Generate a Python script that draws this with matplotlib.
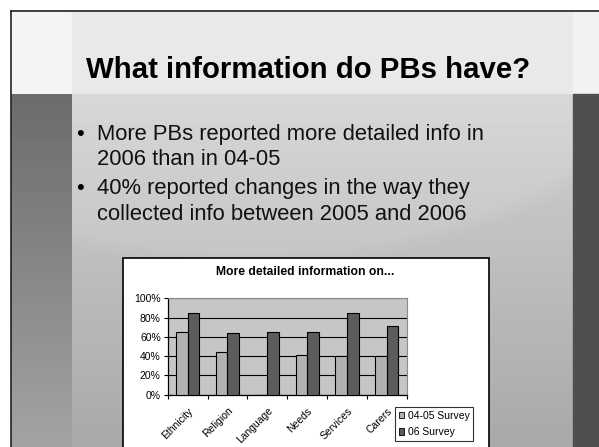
import numpy as np
import matplotlib.pyplot as plt
from matplotlib.patches import Rectangle
from matplotlib.ticker import PercentFormatter

# === Data ===
categories = ["Ethnicity", "Religion", "Language", "Needs", "Services", "Carers"]
survey_0405 = [65, 44, 0, 41, 40, 40]
survey_06 = [85, 64, 65, 65, 85, 71]
series_names = ["04-05 Survey", "06 Survey"]

slide_title = "What information do PBs have?"
bullets = [
    ["More PBs reported more detailed info in", "2006 than in 04-05"],
    ["40% reported changes in the way they", "collected info between 2005 and 2006"],
]
chart_title = "More detailed information on..."

plt.rcParams["font.family"] = ["Liberation Sans", "DejaVu Sans"]

W, H = 599, 447
fig = plt.figure(figsize=(W / 100, H / 100), dpi=100)

# === Slide background (pixel coordinates) ===
bg = fig.add_axes([0, 0, 1, 1])
bg.set_xlim(0, W)
bg.set_ylim(H, 0)
bg.axis("off")

bg.add_patch(Rectangle((0, 0), W, H, color="white", zorder=0))
# header strip
bg.add_patch(Rectangle((11, 11), 61, 83, color="#f4f4f4", zorder=1))
bg.add_patch(Rectangle((72, 11), 501, 83, color="#e9e9e9", zorder=1))
bg.add_patch(Rectangle((573, 11), 26, 83, color="#f2f2f2", zorder=1))

# body: vertical shading, darker left band, faint light swoosh top-left
px, py = np.meshgrid(np.arange(11, 573), np.arange(94, H))
t = (py - 94) / (H - 94)
body = 0.82 - 0.16 * t
band = px < 72
body[band] = 0.42 + 0.22 * t[band]
r = ((px - 250) / 420) ** 2 + ((py - 40) / 230) ** 2
glow = np.clip((1.0 - r) / 0.15, 0, 1)
body += 0.025 * glow * (~band)
bg.imshow(body, cmap="gray", vmin=0, vmax=1, interpolation="bilinear",
          extent=(11, 573, H, 94), aspect="auto", zorder=1)
bg.add_patch(Rectangle((573, 94), 26, H - 94, color="#4f4f4f", zorder=1))

# outer frame lines
bg.plot([11, W], [11, 11], color="#222222", lw=1.2, zorder=2)
bg.plot([11, 11], [11, H], color="#222222", lw=1.2, zorder=2)

# slide title and bullets
bg.text(86, 78, slide_title, fontsize=21.2, fontweight="bold",
        color="black", va="baseline", ha="left", zorder=3)
baselines = [[140, 165], [194, 220]]
for lines, ys in zip(bullets, baselines):
    bg.text(76, ys[0], "•", fontsize=15.8, va="baseline", ha="left", zorder=3)
    for line, y in zip(lines, ys):
        bg.text(97, y, line, fontsize=15.8, va="baseline", ha="left",
                color="#111111", zorder=3)

# chart box
bg.add_patch(Rectangle((123, 258), 366, H, facecolor="white",
                       edgecolor="black", lw=1.2, zorder=2))
bg.text(305, 275, chart_title, fontsize=8.7, fontweight="bold",
        ha="center", va="baseline", zorder=3)

# === Chart ===
ax = fig.add_axes([167.7 / W, 1 - 394.7 / H, 239 / W, 96.4 / H])
ax.set_facecolor("#c6c6c6")
x = np.arange(len(categories)) + 0.5
bw = 0.29
ax.bar(x - bw / 2, np.array(survey_0405) / 100, width=bw, color="#b2b2b2",
       edgecolor="black", linewidth=0.8, label=series_names[0], zorder=3)
ax.bar(x + bw / 2, np.array(survey_06) / 100, width=bw, color="#5c5c5c",
       edgecolor="black", linewidth=0.8, label=series_names[1], zorder=3)

ax.set_xlim(0, len(categories))
ax.set_ylim(0, 1)
ax.set_yticks(np.arange(0, 1.01, 0.2))
ax.yaxis.set_major_formatter(PercentFormatter(1.0, decimals=0))
ax.yaxis.grid(True, color="black", linewidth=0.8, zorder=1)
ax.set_axisbelow(True)
ax.tick_params(axis="y", direction="out", length=3, width=0.8,
               labelsize=7.5, pad=2)

ax.set_xticks(np.arange(0, len(categories) + 1))
ax.set_xticklabels([])
ax.set_xticks(x, minor=True)
ax.set_xticklabels(categories, minor=True, rotation=45, ha="right",
                   rotation_mode="anchor", fontsize=7.5)
ax.tick_params(axis="x", which="major", direction="out", length=3, width=0.8)
ax.tick_params(axis="x", which="minor", length=0, pad=8)

for side in ["top", "right"]:
    ax.spines[side].set_color("#8a8a8a")
for side in ["left", "bottom"]:
    ax.spines[side].set_color("black")
    ax.spines[side].set_linewidth(0.9)

leg = ax.legend(loc="upper left", bbox_to_anchor=(395 / W, 1 - 407.3 / H),
                bbox_transform=fig.transFigure, fontsize=7.5, frameon=True,
                fancybox=False, edgecolor="black", handlelength=0.55,
                handleheight=0.55, handletextpad=0.3, borderpad=0.35,
                labelspacing=0.6, borderaxespad=0)
leg.get_frame().set_linewidth(0.8)
for h in leg.legend_handles:
    h.set_linewidth(0.6)

plt.savefig("out.png", dpi=100)
plt.close()
